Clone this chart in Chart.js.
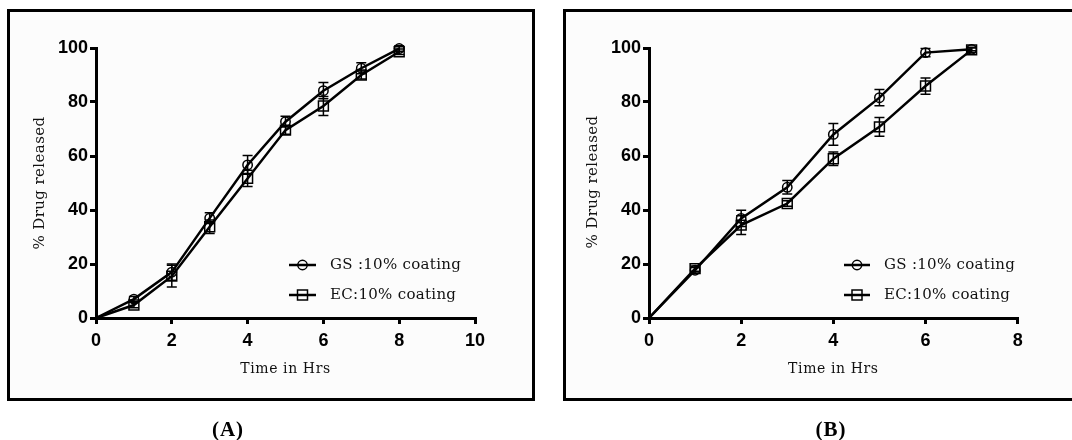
<!DOCTYPE html>
<html>
<head>
<meta charset="utf-8">
<script src="https://cdn.jsdelivr.net/npm/chart.js@4.4.1/dist/chart.umd.min.js"></script>
<style>
  html, body { margin:0; padding:0; background:#ffffff; }
  body { width:1072px; height:440px; position:relative; overflow:hidden; }
  .box { position:absolute; border:3px solid #000; background:#fcfcfc; box-sizing:border-box; }
  #boxA { left:7px; top:9px; width:528px; height:392px; }
  #boxB { left:563px; top:9px; width:540px; height:392px; }
  canvas { position:absolute; top:0; }
  #cA { left:0; }
  #cB { left:540px; }
  .plabel { position:absolute; top:417px; font:bold 21px "Liberation Serif", serif; letter-spacing:1px; color:#000; transform:translateX(-50%); }
</style>
</head>
<body>
<div class="box" id="boxA"></div>
<div class="box" id="boxB"></div>
<canvas id="cA" width="540" height="440"></canvas>
<canvas id="cB" width="532" height="440"></canvas>
<div class="plabel" style="left:228px">(A)</div>
<div class="plabel" style="left:831px">(B)</div>
<script>
// ---- data ----
const hoursA = [0, 1, 2, 3, 4, 5, 6, 7, 8];
const gsA    = [0, 7, 17, 37, 56.7, 72.7, 84.2, 92.5, 99.8];
const gsAErr = [0, 1, 3, 2, 3.5, 2, 3, 2, 1];
const ecA    = [0, 4.8, 15.5, 33.8, 51.7, 69.6, 78.5, 90, 98.6];
const ecAErr = [0, 1, 4, 2.5, 3, 1.5, 3.5, 1.5, 1];

const hoursB = [0, 1, 2, 3, 4, 5, 6, 7];
const gsB    = [0, 17.7, 36.9, 48.4, 68, 81.6, 98.3, 99.5];
const gsBErr = [0, 1, 3, 2.5, 4, 3, 1.5, 0.5];
const ecB    = [0, 18.3, 34.4, 42.4, 59, 70.8, 85.9, 99.3];
const ecBErr = [0, 1, 3.5, 1, 2.5, 3.5, 3, 1];

const xTicksA = [0, 2, 4, 6, 8, 10];
const xTicksB = [0, 2, 4, 6, 8];
const yTicks  = [0, 20, 40, 60, 80, 100];

const seriesNames = ['GS :10% coating', 'EC:10% coating'];
const xTitle = 'Time in Hrs';
const yTitle = '% Drug released';

// ---- plugin: error bars, axis titles, legend ----
const extras = {
  id: 'extras',
  afterDatasetsDraw(chart, args, o) {
    const ctx = chart.ctx, ys = chart.scales.y;
    ctx.save();
    ctx.strokeStyle = '#000';
    ctx.lineWidth = 1.5;
    chart.data.datasets.forEach((ds, i) => {
      const meta = chart.getDatasetMeta(i);
      const errs = o.errors[i];
      meta.data.forEach((pt, j) => {
        const e = errs[j];
        if (!e) return;
        const v = ds.data[j].y;
        const t = ys.getPixelForValue(v + e), b = ys.getPixelForValue(v - e);
        ctx.beginPath();
        ctx.moveTo(pt.x, t); ctx.lineTo(pt.x, b);
        ctx.moveTo(pt.x - 5, t); ctx.lineTo(pt.x + 5, t);
        ctx.moveTo(pt.x - 5, b); ctx.lineTo(pt.x + 5, b);
        ctx.stroke();
      });
    });
    ctx.restore();
  },
  afterDraw(chart, args, o) {
    const ctx = chart.ctx, a = chart.chartArea;
    ctx.save();
    ctx.fillStyle = '#111';
    ctx.font = '14px "DejaVu Serif", serif';
    ctx.textAlign = 'center';
    ctx.textBaseline = 'middle';
    ctx.letterSpacing = '0.6px';
    ctx.fillText(xTitle, (a.left + a.right) / 2, o.xTitleY);
    ctx.translate(o.yTitleX, o.yTitleY);
    ctx.rotate(-Math.PI / 2);
    ctx.font = '15px "DejaVu Serif", serif';
    ctx.letterSpacing = '0.4px';
    ctx.fillText(yTitle, 0, 0);
    ctx.restore();

    // legend
    ctx.save();
    ctx.strokeStyle = '#000';
    ctx.fillStyle = '#111';
    ctx.font = '15px "DejaVu Serif", serif';
    ctx.letterSpacing = '0.3px';
    ctx.textAlign = 'left';
    ctx.textBaseline = 'middle';
    seriesNames.forEach((name, i) => {
      const y = o.legendY[i];
      ctx.lineWidth = 2.5;
      ctx.beginPath();
      ctx.moveTo(o.legendX1, y); ctx.lineTo(o.legendX2, y);
      ctx.stroke();
      const cx = (o.legendX1 + o.legendX2) / 2;
      ctx.lineWidth = 1.5;
      ctx.beginPath();
      if (i === 0) ctx.arc(cx, y, 4.7, 0, Math.PI * 2);
      else ctx.rect(cx - 5, y - 5, 10, 10);
      ctx.stroke();
      ctx.fillText(name, o.legendTextX, y);
    });
    ctx.restore();
  }
};

function makeDatasets(xs, s1, s2) {
  const common = {
    borderColor: '#000', borderWidth: 2.5, showLine: true, tension: 0,
    pointBorderColor: '#000', pointBackgroundColor: 'rgba(0,0,0,0)',
    pointBorderWidth: 1.5, clip: false
  };
  return [
    Object.assign({}, common, { label: seriesNames[0], data: xs.map((x, i) => ({ x, y: s1[i] })), pointStyle: 'circle',
      pointRadius: c => (c.dataIndex === 0 ? 0 : 4.7) }),
    Object.assign({}, common, { label: seriesNames[1], data: xs.map((x, i) => ({ x, y: s2[i] })), pointStyle: 'rect',
      pointRadius: c => (c.dataIndex === 0 ? 0 : 7) })
  ];
}

function makeChart(id, xs, s1, s2, errs, xTicks, yWidth, padRight, ex) {
  const tickFont = { family: '"Liberation Sans", Arial, sans-serif', size: 18, weight: 'bold' };
  const axisGrid = { display: true, drawOnChartArea: false, drawTicks: true, tickLength: 6, lineWidth: 3, color: '#000' };
  return new Chart(document.getElementById(id), {
    type: 'scatter',
    data: { datasets: makeDatasets(xs, s1, s2) },
    options: {
      responsive: false, animation: false, devicePixelRatio: 1,
      layout: { padding: { left: 0, top: 48, right: padRight, bottom: 0 } },
      plugins: {
        legend: { display: false }, tooltip: { enabled: false },
        extras: Object.assign({ errors: errs }, ex)
      },
      scales: {
        x: {
          type: 'linear', min: xTicks[0], max: xTicks[xTicks.length - 1],
          afterBuildTicks: s => { s.ticks = xTicks.map(v => ({ value: v })); },
          afterFit: s => { s.height = 122; },
          grid: axisGrid,
          border: { display: true, width: 3, color: '#000' },
          ticks: { color: '#000', font: tickFont, padding: 6, maxRotation: 0 }
        },
        y: {
          type: 'linear', min: 0, max: 100,
          afterBuildTicks: s => { s.ticks = yTicks.map(v => ({ value: v })); },
          afterFit: s => { s.width = yWidth; },
          grid: axisGrid,
          border: { display: true, width: 3, color: '#000' },
          ticks: { color: '#000', font: tickFont, padding: 2 }
        }
      }
    },
    plugins: [extras]
  });
}

makeChart('cA', hoursA, gsA, ecA, [gsAErr, ecAErr], xTicksA, 96, 65,
  { xTitleY: 369, yTitleX: 40, yTitleY: 183, legendX1: 289, legendX2: 316, legendTextX: 330, legendY: [265, 295] });
makeChart('cB', hoursB, gsB, ecB, [gsBErr, ecBErr], xTicksB, 109, 54.3,
  { xTitleY: 369, yTitleX: 53, yTitleY: 182, legendX1: 304, legendX2: 330, legendTextX: 344, legendY: [265, 295] });
</script>
</body>
</html>
